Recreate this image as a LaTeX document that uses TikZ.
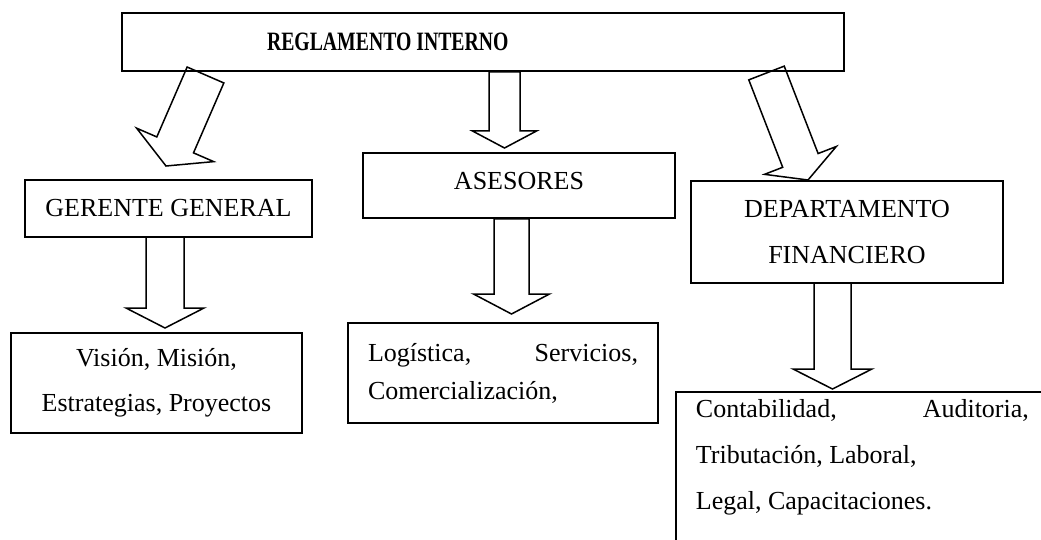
\documentclass[tikz,border=0pt]{standalone}
\usepackage{fontspec}
\setmainfont{Liberation Serif}
\newfontfamily\titlefont{Liberation Serif}[FakeStretch=0.745]
\usetikzlibrary{calc}

\tikzset{
  orgbox/.style={draw, line width=1.8pt, rectangle, inner sep=0pt, align=center},
  arrowline/.style={line width=1.5pt, line join=miter},
}

% hollow block arrow: start, tip, half shaft width, half head width, head length
\newcommand{\blockarrow}[5]{%
  \coordinate (ba-base) at ($(#2)!#5!(#1)$);
  \draw[arrowline] ($(#1)!#3!90:(#2)$) -- ($(ba-base)!#3!90:(#2)$) -- ($(ba-base)!#4!90:(#2)$) -- (#2)
    -- ($(ba-base)!#4!-90:(#2)$) -- ($(ba-base)!#3!-90:(#2)$) -- ($(#1)!#3!-90:(#2)$) -- cycle;
}

\begin{document}
\begin{tikzpicture}[x=1pt, y=-1pt, font=\fontsize{26}{45}\selectfont]
\useasboundingbox (0,0) rectangle (1041,540);

\node[orgbox, text width=706pt, inner xsep=8pt, minimum height=58pt, align=left] (reglamento) at (483,42) {\hspace*{137pt}{\titlefont\bfseries\fontsize{26.5}{30}\selectfont\spaceskip=0pt\xspaceskip=0pt REGLAMENTO INTERNO}};
\node[orgbox, minimum width=287pt, minimum height=57pt] (gerente) at (168.5,208.5) {GERENTE GENERAL};
\node[orgbox, minimum width=312pt, minimum height=65pt, text depth=9pt] (asesores) at (519,185.5) {ASESORES};
\node[orgbox, minimum width=312pt, minimum height=102pt, font=\fontsize{26}{46}\selectfont] (financiero) at (847,232) {DEPARTAMENTO\\FINANCIERO};
\node[orgbox, minimum width=291pt, minimum height=100pt] (vision) at (156.5,383) {Visión, Misión,\\Estrategias, Proyectos};
\node[orgbox, text width=270pt, inner xsep=20pt, minimum height=100pt, align=left, font=\fontsize{26}{38}\selectfont] (logistica) at (503,373) {\spaceskip=0pt\xspaceskip=0pt Logística,\hfill Servicios,\\Comercialización,};
\node[orgbox, anchor=north west, text width=333pt, inner xsep=20pt, inner ysep=8pt, text depth=150pt, align=left, font=\fontsize{26}{46}\selectfont] (contable) at (675,391) {\spaceskip=0pt\xspaceskip=0pt Contabilidad,\hfill Auditoria,\\Tributación, Laboral,\\Legal, Capacitaciones.};

\coordinate (reg-ger) at (205.5,75);
\coordinate (ger-top) at (166,166);
\blockarrow{reg-ger}{ger-top}{20pt}{42pt}{23pt}
\coordinate (reg-ase) at (504.5,72);
\coordinate (ase-top) at (504.5,148);
\blockarrow{reg-ase}{ase-top}{15.5pt}{32pt}{17pt}
\coordinate (reg-fin) at (766.5,73);
\coordinate (fin-top) at (808,180);
\blockarrow{reg-fin}{fin-top}{19pt}{38.5pt}{21pt}

\coordinate (ger-bot) at (165,237);
\coordinate (vis-top) at (165,328);
\blockarrow{ger-bot}{vis-top}{19pt}{39pt}{20pt}
\coordinate (ase-bot) at (511.5,219);
\coordinate (log-top) at (511.5,314);
\blockarrow{ase-bot}{log-top}{17.5pt}{38pt}{20pt}
\coordinate (fin-bot) at (832.5,283);
\coordinate (con-top) at (832.5,389);
\blockarrow{fin-bot}{con-top}{18.5pt}{39.5pt}{20pt}

\end{tikzpicture}
\end{document}
